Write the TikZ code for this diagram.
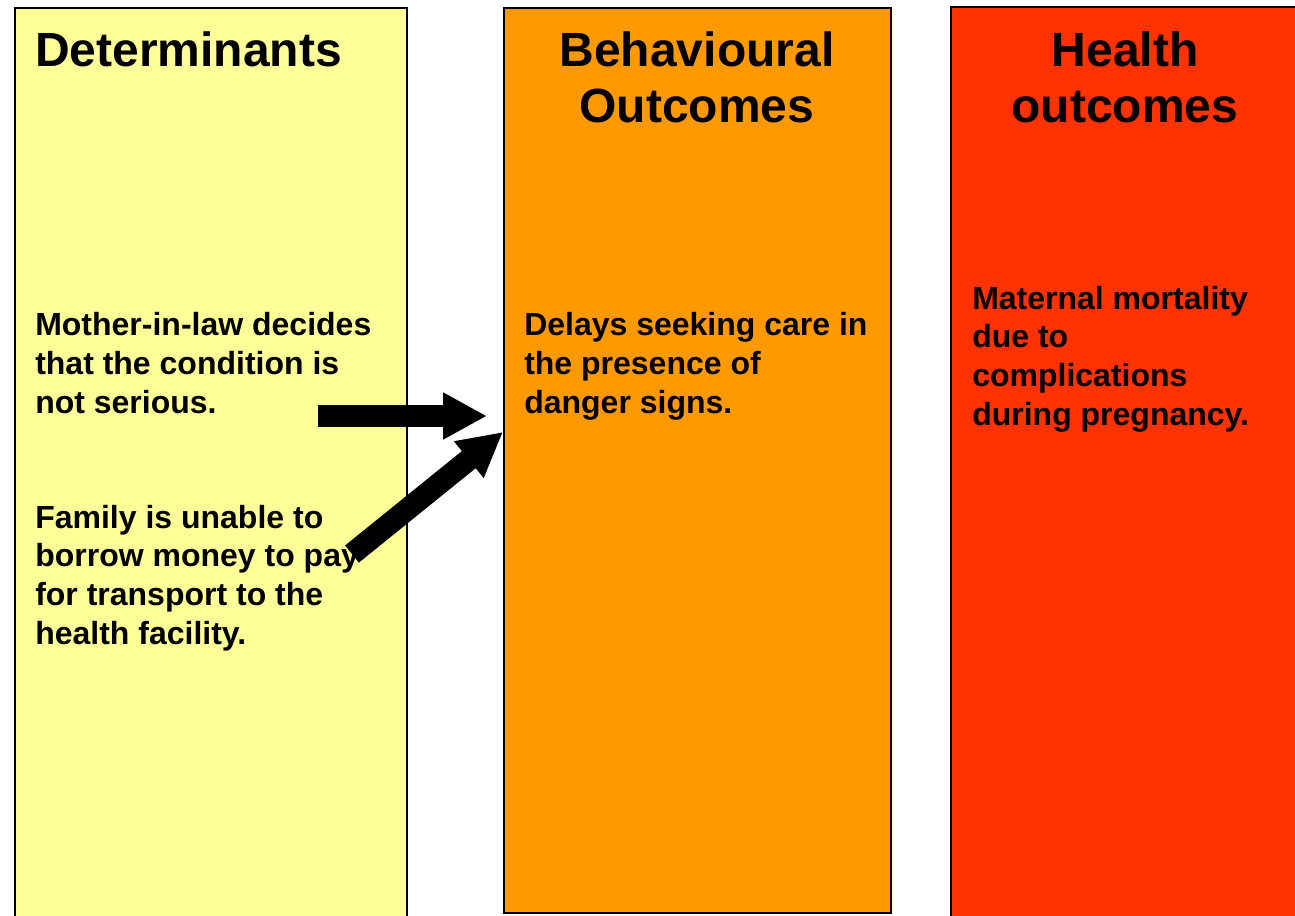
\documentclass[tikz,border=0pt]{standalone}
\usepackage{fontspec}
\setmainfont{Liberation Sans}
\usetikzlibrary{arrows.meta}

\definecolor{detyellow}{HTML}{FFFF99}
\definecolor{behorange}{HTML}{FF9900}
\definecolor{hlthred}{HTML}{FF3300}

\tikzset{
  panel/.style={draw=black, line width=1.1pt},
  title/.style={font=\fontsize{36}{42}\selectfont\bfseries, align=center, inner sep=0pt},
  body/.style={font=\fontsize{24}{28.9}\selectfont\bfseries, align=left, inner sep=0pt, anchor=base west},
  blockarrow/.style={line width=16.5pt, -{Triangle[length=33pt,width=33pt]}}
}

\begin{document}
\begin{tikzpicture}[x=0.75pt,y=-0.75pt]
                \clip (0,0) rectangle (1295,915);
                \fill[white] (0,0) rectangle (1295,915);

                % three columns
                \draw[panel, fill=detyellow] (15,8) rectangle (407,940);
                \draw[panel, fill=behorange] (504,8) rectangle (891,913);
                \draw[panel, fill=hlthred] (951,7) rectangle (1320,940);

                % titles (base = last line)
                \node[title, anchor=base west] (dettitle) at (35,66) {Determinants};
                \node[title, anchor=base] (behtitle) at (697,122) {Behavioural\\Outcomes};
                \node[title, anchor=base] (hlthtitle) at (1125,122) {Health\\outcomes};

                \node[body] (mil) at (35,413) {Mother-in-law decides\\that the condition is\\not serious.};
                \node[body] (family) at (35,644) {Family is unable to\\borrow money to pay\\for transport to the\\health facility.};
                \node[body] (delay) at (524,413) {Delays seeking care in\\the presence of\\danger signs.};
                \node[body] (mortality) at (972,425) {Maternal mortality\\due to\\complications\\during pregnancy.};

                \coordinate (milout) at (318,416);
                \coordinate (delayin) at (487,416);
                \coordinate (familyout) at (352,554);
                \coordinate (delayin2) at (503,432);

                \draw[blockarrow] (milout) -- (delayin);
                \draw[blockarrow] (familyout) -- (delayin2);

            \end{tikzpicture}
\end{document}
